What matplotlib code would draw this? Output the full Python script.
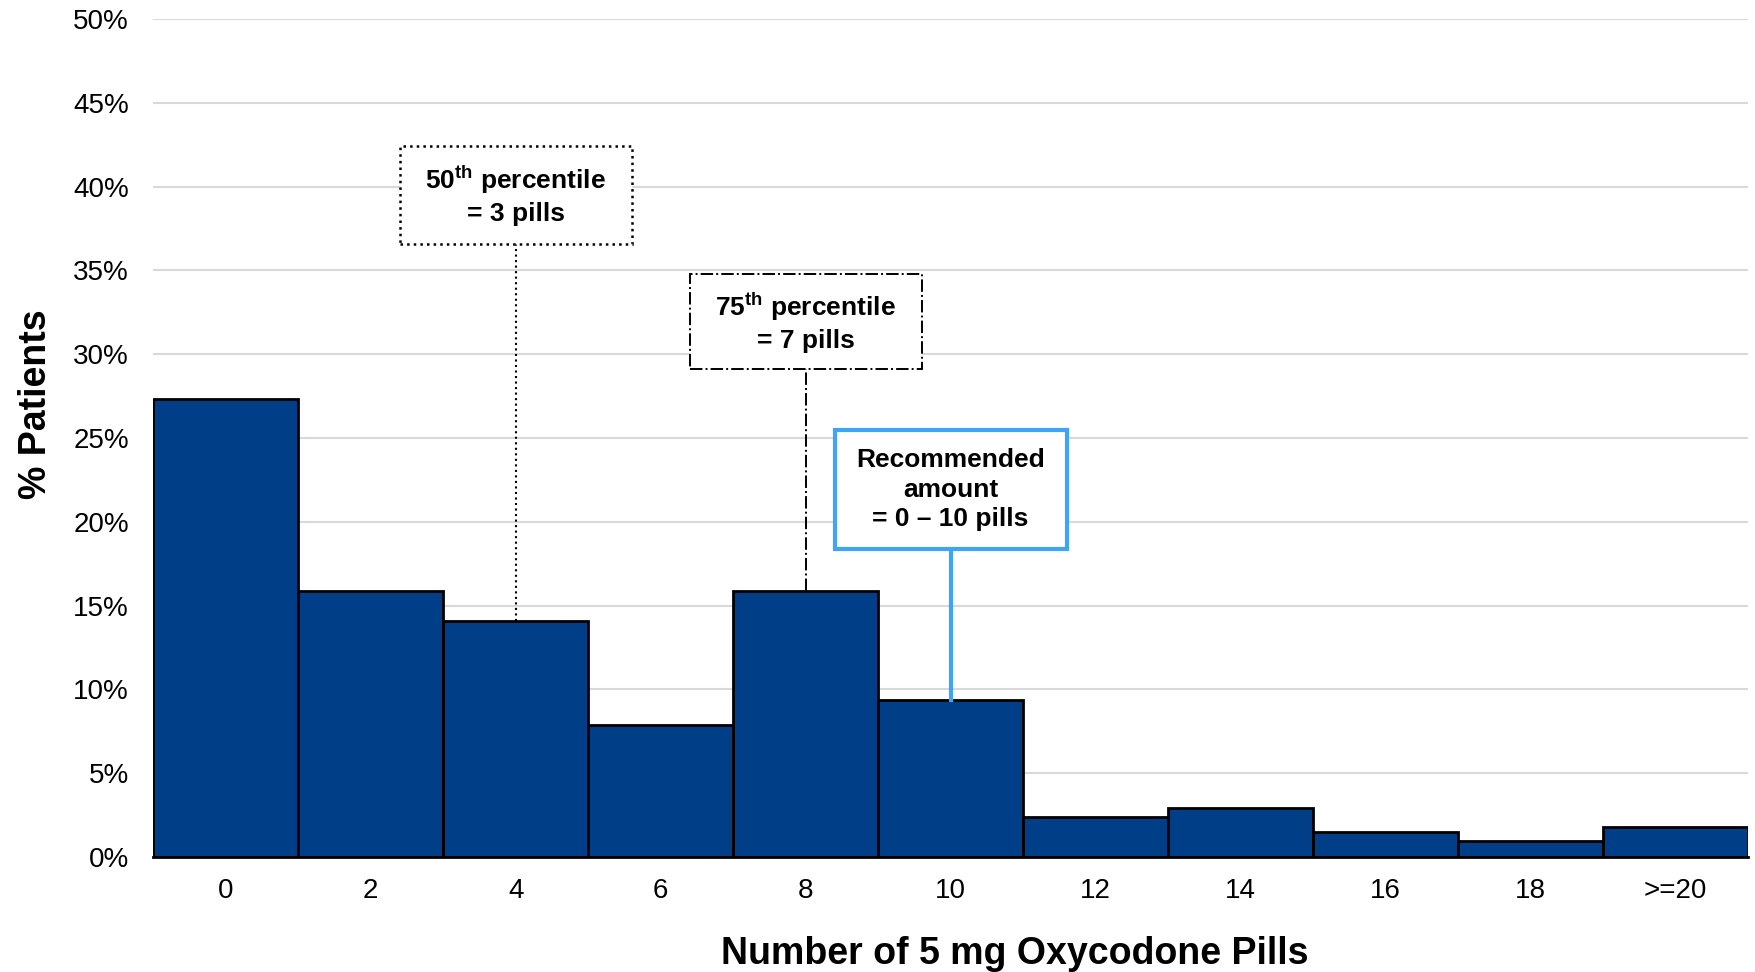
import matplotlib
matplotlib.use("Agg")
import matplotlib.pyplot as plt
from matplotlib.patches import Rectangle
from matplotlib.ticker import PercentFormatter

categories = ["0", "2", "4", "6", "8", "10", "12", "14", "16", "18", ">=20"]
percent_patients = [27.3, 15.9, 14.1, 7.9, 15.9, 9.35, 2.4, 2.94, 1.47, 0.93, 1.8]
y_ticks = [0, 5, 10, 15, 20, 25, 30, 35, 40, 45, 50]

plt.rcParams['font.family'] = ['Liberation Sans', 'DejaVu Sans']
plt.rcParams['mathtext.fontset'] = 'custom'
plt.rcParams['mathtext.rm'] = 'Liberation Sans'
plt.rcParams['mathtext.bf'] = 'Liberation Sans:bold'

fig = plt.figure(figsize=(17.55, 9.72), dpi=100)
ax = fig.add_axes([0.0873, 0.1183, 0.9087, 0.8622])

x = list(range(len(categories)))
ax.bar(x, percent_patients, width=1.0, color='#003f87', edgecolor='black', linewidth=2, zorder=3)

ax.set_xlim(-0.5, len(categories) - 0.5)
ax.set_ylim(0, 50)
ax.set_yticks(y_ticks)
ax.yaxis.set_major_formatter(PercentFormatter(decimals=0))
ax.set_xticks(x)
ax.set_xticklabels(categories)
ax.tick_params(axis='both', length=0, labelsize=20, colors='#000000')
ax.tick_params(axis='x', pad=15)
ax.tick_params(axis='y', pad=17.5)
ax.grid(axis='y', color='#d9d9d9', linewidth=1.5, zorder=0)
for s in ['top', 'right', 'left']:
    ax.spines[s].set_visible(False)
ax.spines['bottom'].set_linewidth(2)
ax.spines['bottom'].set_zorder(4)

ax.set_ylabel('% Patients', fontsize=27, fontweight='bold', labelpad=14)
ax.yaxis.set_label_coords(-0.062, 0.54)
ax.set_xlabel('Number of 5 mg Oxycodone Pills', fontsize=27, fontweight='bold', labelpad=22)
ax.xaxis.set_label_coords(0.54, -0.094)

def callout(xc, y0, y1, bar_top, text, ls, ec, lw, line_lw):
    w = 1.6
    rect = Rectangle((xc - w / 2, y0), w, y1 - y0, facecolor='white', edgecolor=ec,
                     linestyle=ls, linewidth=lw, zorder=5)
    ax.add_patch(rect)
    ax.plot([xc, xc], [bar_top, y0], color=ec, linestyle=ls, linewidth=line_lw, zorder=4)
    ax.text(xc, (y0 + y1) / 2, text, ha='center', va='center', fontsize=19,
            fontweight='bold', zorder=6, linespacing=1.3)

callout(2, 36.6, 42.4, percent_patients[2], '50$^{\\mathbf{th}}$ percentile\n= 3 pills', ':', 'black', 1.8, 1.5)
callout(4, 29.1, 34.8, percent_patients[4], '75$^{\\mathbf{th}}$ percentile\n= 7 pills', '-.', 'black', 1.4, 1.4)
callout(5, 18.35, 25.5, percent_patients[5], 'Recommended\namount\n= 0 \u2013 10 pills', '-', '#3da5f4', 3, 3)

fig.savefig('out.png', dpi=100)
